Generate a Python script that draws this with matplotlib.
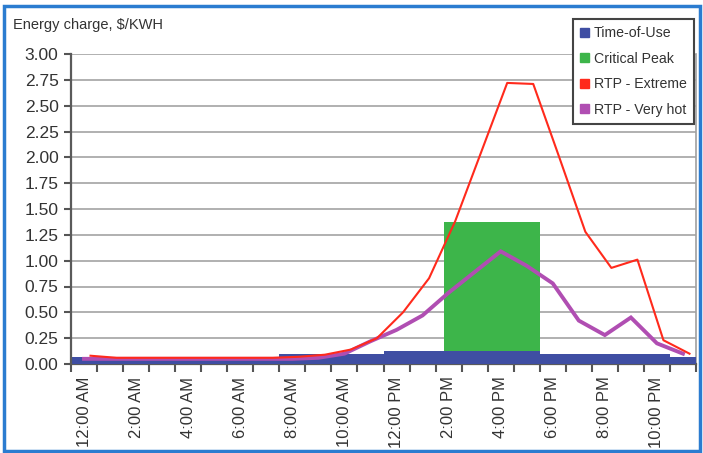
import matplotlib
matplotlib.use("Agg")
import matplotlib.pyplot as plt
from matplotlib.patches import Patch, Rectangle
import numpy as np

plt.rcParams['font.family'] = ['Liberation Sans', 'DejaVu Sans']

# ---- data ----
hours = list(range(24))
tick_labels = ["12:00 AM", "2:00 AM", "4:00 AM", "6:00 AM", "8:00 AM", "10:00 AM",
               "12:00 PM", "2:00 PM", "4:00 PM", "6:00 PM", "8:00 PM", "10:00 PM"]
time_of_use = [0.07, 0.07, 0.07, 0.07, 0.07, 0.07, 0.07, 0.07,
               0.10, 0.10, 0.10, 0.10,
               0.13, 0.13, 0.13, 0.13, 0.13, 0.13,
               0.10, 0.10, 0.10, 0.10, 0.10, 0.07]
critical_peak = [0, 0, 0, 0, 0, 0, 0, 0, 0, 0, 0, 0, 0, 0,
                 1.37, 1.37, 1.37, 1.37, 0, 0, 0, 0, 0, 0]
rtp_extreme = [0.08, 0.06, 0.06, 0.06, 0.06, 0.06, 0.06, 0.06, 0.07, 0.09, 0.14, 0.25,
               0.50, 0.83, 1.38, 2.05, 2.72, 2.71, 2.00, 1.28, 0.93, 1.01, 0.23, 0.10]
rtp_very_hot = [0.05, 0.05, 0.05, 0.05, 0.05, 0.05, 0.05, 0.05, 0.05, 0.06, 0.10, 0.22,
                0.33, 0.47, 0.69, 0.89, 1.09, 0.95, 0.78, 0.42, 0.28, 0.45, 0.20, 0.10]

C_TOU = "#3f4ea3"
C_CPP = "#3db54a"
C_EXT = "#ff2a1c"
C_HOT = "#b04eb2"

W, H = 703, 453
fig = plt.figure(figsize=(W / 100, H / 100), dpi=100)
ax = fig.add_axes([71 / W, 1 - 364 / H, (696 - 71) / W, (364 - 54) / H])

h = np.array(hours)
# Time-of-use (step area)
ax.bar(h, time_of_use, width=1.0, align='edge', color=C_TOU, linewidth=0, zorder=3)
# Critical peak block
cp = np.array(critical_peak)
on = h[cp > 0]
ax.fill_between([on[0] + 0.32, on[-1] + 1.0], [cp[on[0]]] * 2, 0,
                color=C_CPP, linewidth=0, zorder=2)
# RTP lines
ax.plot(h + 0.5, rtp_very_hot, color=C_HOT, lw=2.8, zorder=4, solid_joinstyle='miter')
ax.plot(h + 0.75, rtp_extreme, color=C_EXT, lw=1.5, zorder=5)

ax.set_xlim(0, 24)
ax.set_ylim(0, 3.0)
ax.set_yticks(np.arange(0, 3.01, 0.25))
ax.set_yticklabels([f"{v:.2f}" for v in np.arange(0, 3.01, 0.25)])
ax.yaxis.grid(True, color="#a3a3a3", lw=1.2, zorder=1)
ax.set_axisbelow(True)

ax.set_xticks(np.arange(0, 24, 2) + 0.5)
ax.set_xticklabels(tick_labels, rotation=90, va='top', ha='center')
ax.set_xticks(np.arange(0, 25, 1), minor=True)
ax.tick_params(axis='x', which='major', length=0, pad=9, labelsize=12, colors='#333333')
ax.tick_params(axis='x', which='minor', length=6, width=1.5, color='#555555', direction='out')
ax.tick_params(axis='y', which='major', length=5, width=1.5, color='#555555',
               labelsize=12.5, labelcolor='#333333', pad=4)

for s in ['left', 'bottom']:
    ax.spines[s].set_color('#5a5a5a')
    ax.spines[s].set_linewidth(1.6)
ax.spines['top'].set_visible(False)
ax.spines['right'].set_color('#a0a0a0')
ax.spines['right'].set_linewidth(1.2)
ax.spines['left'].set_zorder(6)

fig.text(13 / W, 1 - 25 / H, "Energy charge, $/KWH", fontsize=10.5, color='#333333',
         va='center', ha='left')

handles = [Patch(color=C_TOU), Patch(color=C_CPP), Patch(color=C_EXT), Patch(color=C_HOT)]
labels = ["Time-of-Use", "Critical Peak", "RTP - Extreme", "RTP - Very hot"]
leg = fig.legend(handles, labels, loc='upper left',
                 bbox_to_anchor=(573 / W, 1 - 19 / H), bbox_transform=fig.transFigure,
                 fontsize=10.2, handlelength=0.6, handleheight=0.6, handletextpad=0.35,
                 labelspacing=0.82, borderpad=0.5, borderaxespad=0, fancybox=False,
                 frameon=True, framealpha=1.0)
leg.get_frame().set_edgecolor('#444444')
leg.get_frame().set_linewidth(1.5)
for t in leg.get_texts():
    t.set_color('#333333')

fig.patches.append(Rectangle((4 / W, 1 - 451 / H), 696 / W, 445 / H,
                             transform=fig.transFigure, fill=False,
                             edgecolor='#2b7cd0', lw=2.5))

fig.savefig("out.png", dpi=100)
